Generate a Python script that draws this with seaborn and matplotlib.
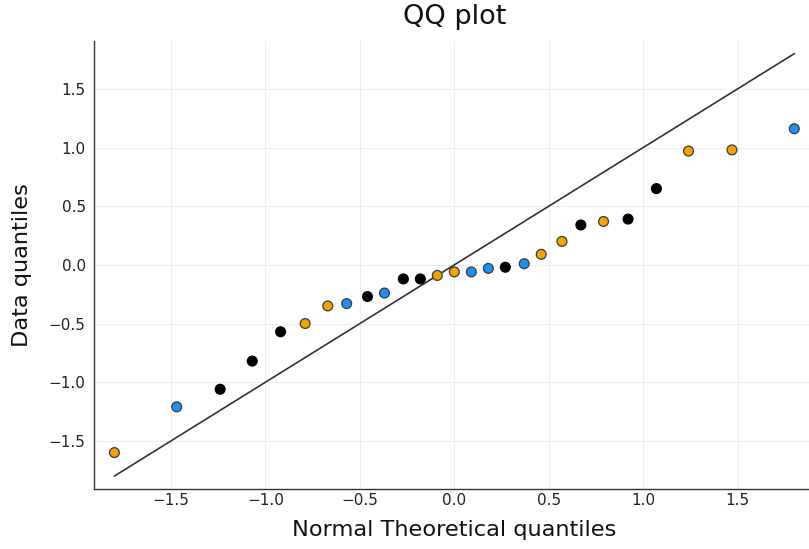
import matplotlib
matplotlib.use("Agg")
import matplotlib.pyplot as plt
import seaborn as sns
import pandas as pd

# Theoretical normal quantiles and the matching sorted sample values
theoretical = [-1.80, -1.47, -1.24, -1.07, -0.92, -0.79, -0.67, -0.57, -0.46,
               -0.37, -0.27, -0.18, -0.09, 0.00, 0.09, 0.18, 0.27, 0.37,
               0.46, 0.57, 0.67, 0.79, 0.92, 1.07, 1.24, 1.47, 1.80]
sample = [-1.60, -1.21, -1.06, -0.82, -0.57, -0.50, -0.35, -0.33, -0.27,
          -0.24, -0.12, -0.12, -0.09, -0.06, -0.06, -0.03, -0.02, 0.01,
          0.09, 0.20, 0.34, 0.37, 0.39, 0.65, 0.97, 0.98, 1.16]
group = ["orange", "blue", "black", "black", "black", "orange", "orange",
         "blue", "black", "blue", "black", "black", "orange", "orange",
         "blue", "blue", "black", "blue", "orange", "orange", "black",
         "orange", "black", "black", "orange", "orange", "blue"]

# Reference line y = x
ref_x = [-1.80, 1.80]
ref_y = [-1.80, 1.80]

palette = {"orange": "#F5A300", "blue": "#1E8FF5", "black": "#000000"}
edges = {"orange": "#3a3a3a", "blue": "#3a3a3a", "black": "#000000"}

df = pd.DataFrame({"theoretical": theoretical, "sample": sample, "group": group})

sns.set_theme(style="white")
plt.rcParams["font.family"] = ["DejaVu Sans"]

fig = plt.figure(figsize=(8.09, 5.49), dpi=100)
ax = fig.add_axes([0.1162, 0.1098, 0.8908, 0.8155])

ax.plot(ref_x, ref_y, color="#333333", linewidth=1.2, zorder=2)
sns.scatterplot(data=df, x="theoretical", y="sample", hue="group",
                palette=palette, s=50, edgecolor="#3a3a3a", linewidth=0.9,
                legend=False, ax=ax, zorder=3)
ax.collections[-1].set_edgecolors([edges[g] for g in group])

ax.set_xlim(-1.908, 1.908)
ax.set_ylim(-1.908, 1.908)
ticks = [-1.5, -1.0, -0.5, 0.0, 0.5, 1.0, 1.5]
ax.set_xticks(ticks)
ax.set_yticks(ticks)
ax.grid(True, color="#ededed", linewidth=0.7)
ax.set_axisbelow(True)

for side in ("top", "right"):
    ax.spines[side].set_visible(False)
for side in ("left", "bottom"):
    ax.spines[side].set_color("#333333")
    ax.spines[side].set_linewidth(1.0)

ax.tick_params(axis="both", direction="in", length=4, width=1.0,
               color="#333333", labelsize=11, labelcolor="#222222")
ax.tick_params(axis="x", pad=3)
ax.tick_params(axis="y", pad=6)

ax.set_xlabel("Normal Theoretical quantiles", fontsize=16.2, color="#111111", labelpad=9)
ax.set_ylabel("Data quantiles", fontsize=16.2, color="#111111", labelpad=12)
ax.set_title("QQ plot", fontsize=19.5, color="#111111", pad=12)

fig.savefig("out.png", dpi=100)
